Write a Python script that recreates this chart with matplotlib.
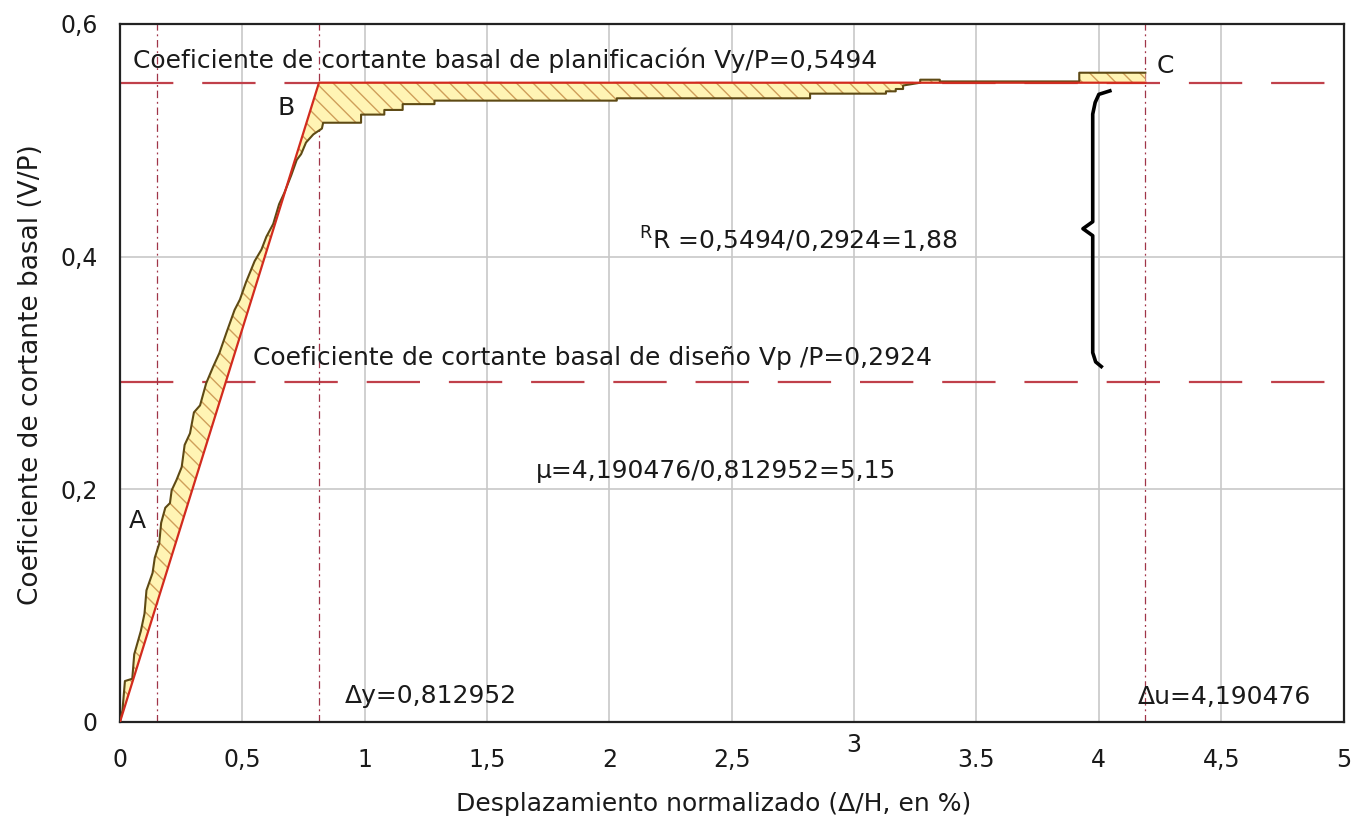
import matplotlib
matplotlib.use('Agg')
import matplotlib.pyplot as plt

# Curva de capacidad (desplazamiento normalizado en %, V/P)
drift = [0.000, 0.010, 0.014, 0.020, 0.050, 0.058, 0.085, 0.100, 0.108, 0.133,
         0.142, 0.160, 0.168, 0.185, 0.204, 0.211, 0.231, 0.252, 0.264, 0.286,
         0.302, 0.327, 0.352, 0.380, 0.406, 0.434, 0.468, 0.490, 0.515, 0.550,
         0.578, 0.598, 0.626, 0.650, 0.672, 0.700, 0.722, 0.740, 0.760, 0.790,
         0.825, 0.830, 0.985, 0.985, 1.080, 1.080, 1.155, 1.155, 1.285, 1.285,
         2.030, 2.030, 2.820, 2.820, 3.130, 3.130, 3.170, 3.170, 3.200, 3.200,
         3.270, 3.270, 3.350, 3.350, 3.920, 3.920, 4.190]
shear = [0.000, 0.010, 0.020, 0.035, 0.037, 0.058, 0.078, 0.093, 0.113, 0.128,
         0.141, 0.153, 0.171, 0.184, 0.188, 0.199, 0.208, 0.219, 0.238, 0.248,
         0.266, 0.272, 0.291, 0.305, 0.317, 0.334, 0.354, 0.363, 0.378, 0.396,
         0.406, 0.417, 0.428, 0.445, 0.455, 0.470, 0.483, 0.488, 0.498, 0.505,
         0.510, 0.515, 0.515, 0.522, 0.522, 0.526, 0.526, 0.531, 0.531, 0.534,
         0.534, 0.536, 0.536, 0.540, 0.540, 0.542, 0.542, 0.544, 0.544, 0.547,
         0.5494, 0.552, 0.552, 0.5505, 0.5505, 0.558, 0.558]

# Curva bilineal idealizada
delta_a = 0.15
delta_y = 0.812952
delta_u = 4.190476
vy = 0.5494
vp = 0.2924

x_ticks = [0, 0.5, 1, 1.5, 2, 2.5, 3, 3.5, 4, 4.5, 5]
x_labels = ['0', '0,5', '1', '1,5', '2', '2,5', '', '3.5', '4', '4,5', '5']
y_ticks = [0, 0.2, 0.4, 0.6]
y_labels = ['0', '0,2', '0,4', '0,6']

plt.rcParams['font.family'] = ['DejaVu Sans']
plt.rcParams['hatch.linewidth'] = 1.0
txt = '#1a1a1a'
fs = 18

fig = plt.figure(figsize=(13.64, 8.23), dpi=100)
ax = fig.add_axes([0.088, 0.123, 0.897, 0.848])
ax.set_xlim(0, 5)
ax.set_ylim(0, 0.6)

ax.grid(color='#c8c8c8', lw=1.2)
ax.set_axisbelow(True)
ax.set_xticks(x_ticks)
ax.set_xticklabels(x_labels)
ax.set_yticks(y_ticks)
ax.set_yticklabels(y_labels)
ax.tick_params(length=0, labelsize=17, labelcolor=txt)
ax.tick_params(axis='x', pad=19)
ax.tick_params(axis='y', pad=16)
for sp in ax.spines.values():
    sp.set_linewidth(1.6)
    sp.set_color('#222222')
# la etiqueta "3" aparece algo más alta en el original
ax.text(3, -0.033, '3', transform=ax.get_xaxis_transform(), ha='center',
        va='center', fontsize=17, color=txt)

ax.set_xlabel('Desplazamiento normalizado (Δ/H, en %)', fontsize=fs, color=txt)
ax.xaxis.set_label_coords(0.485, -0.1)
ax.set_ylabel('Coeficiente de cortante basal (V/P)', fontsize=19, color=txt)
ax.yaxis.set_label_coords(-0.062, 0.497)

# lineas de referencia
for v in (vy, vp):
    ax.axhline(v, color='#c0404a', lw=1.6, dashes=(24, 13), zorder=2)
for d in (delta_a, delta_y, delta_u):
    ax.axvline(d, color='#a03548', lw=0.9, dashes=(6, 3, 1.5, 3), zorder=2)

# area entre curva de capacidad y bilineal
poly_x = drift + [delta_u, delta_y, 0]
poly_y = shear + [vy, vy, 0]
ax.fill(poly_x, poly_y, facecolor='#fff4b4', edgecolor='#cf9f5a',
        hatch='\\\\', lw=0, zorder=3)
ax.plot(drift, shear, color='#5e4a14', lw=1.5, zorder=4)
ax.plot([0, delta_y, delta_u], [0, vy, vy], color='#d22b1e', lw=1.6, zorder=5)

# textos
ax.text(0.055, vy + 0.019, 'Coeficiente de cortante basal de planificación Vy/P=0,5494',
        fontsize=fs, color=txt, va='center', ha='left')
ax.text(0.543, vp + 0.02, 'Coeficiente de cortante basal de diseño Vp /P=0,2924',
        fontsize=fs, color=txt, va='center', ha='left')
ax.text(2.12, 0.414, r'$^{\mathregular{R}}$R =0,5494/0,2924=1,88',
        fontsize=fs, color=txt, va='center', ha='left')
ax.text(1.70, 0.216, 'µ=4,190476/0,812952=5,15',
        fontsize=fs, color=txt, va='center', ha='left')
ax.text(0.92, 0.022, 'Δy=0,812952', fontsize=fs, color=txt, va='center', ha='left')
ax.text(4.16, 0.021, 'Δu=4,190476', fontsize=fs, color=txt, va='center', ha='left')
ax.text(0.07, 0.173, 'A', fontsize=fs, color=txt, va='center', ha='center')
ax.text(0.68, 0.528, 'B', fontsize=fs, color=txt, va='center', ha='center')
ax.text(4.27, 0.564, 'C', fontsize=fs, color=txt, va='center', ha='center')

# llave entre Vp y Vy
bx = 3.975
top = vy - 0.007
bot = vp + 0.013
mid = (top + bot) / 2
brace_x = [bx + 0.07, bx + 0.025, bx + 0.01, bx, bx, bx - 0.04, bx, bx,
           bx + 0.012, bx + 0.035]
brace_y = [top, top - 0.003, top - 0.01, top - 0.02, mid + 0.006, mid,
           mid - 0.006, bot + 0.012, bot + 0.004, bot]
ax.plot(brace_x, brace_y, color='black', lw=2.6, zorder=6)

fig.savefig('out.png', dpi=100, facecolor='white')
